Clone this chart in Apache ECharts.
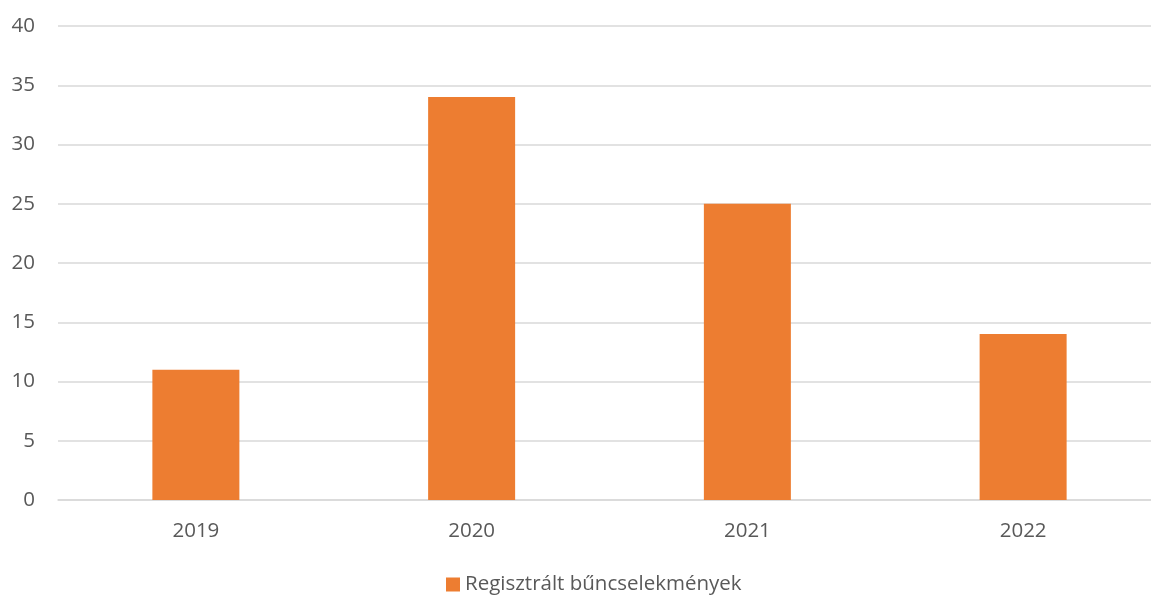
<!DOCTYPE html>
<html lang="hu">
<head>
<meta charset="utf-8">
<title>Regisztrált bűncselekmények</title>
<style>
  html, body { margin: 0; padding: 0; background: #fff; }
  #main { width: 1151px; height: 595px; }
</style>
</head>
<body>
<div id="main"></div>
<script src="https://cdn.jsdelivr.net/npm/echarts@6/dist/echarts.min.js"></script>
<script>
// adatok
var years = ['2019', '2020', '2021', '2022'];
var crimes = [11, 34, 25, 14];
var seriesName = 'Regisztrált bűncselekmények';

var textColor = '#595959';
var font = '"Open Sans", sans-serif';

var myChart = echarts.init(document.getElementById('main'));

var option = {
    backgroundColor: '#ffffff',
    animation: false,
    grid: {
        left: 58,
        top: 26,
        width: 1103,
        height: 474,
        outerBoundsMode: 'none'
    },
    legend: {
        top: 574,
        left: 446,
        padding: 0,
        icon: 'rect',
        itemWidth: 14,
        itemHeight: 14,
        textStyle: { color: textColor, fontSize: 20.5, fontFamily: font },
        data: [seriesName]
    },
    xAxis: {
        type: 'category',
        data: years,
        axisTick: { show: false },
        axisLine: { lineStyle: { color: '#d9d9d9', width: 1.5 } },
        axisLabel: { color: textColor, fontSize: 20.5, fontFamily: font, margin: 21 }
    },
    yAxis: {
        type: 'value',
        min: 0,
        max: 40,
        interval: 5,
        axisLine: { show: false },
        axisTick: { show: false },
        splitLine: { lineStyle: { color: '#d9d9d9', width: 1.5 } },
        axisLabel: { color: textColor, fontSize: 20.5, fontFamily: font, margin: 23 }
    },
    series: [{
        name: seriesName,
        type: 'bar',
        data: crimes,
        barWidth: 87,
        itemStyle: { color: '#ed7d31' }
    }]
};

myChart.setOption(option);
window.addEventListener('resize', function () {
    myChart.resize();
});
</script>
</body>
</html>
